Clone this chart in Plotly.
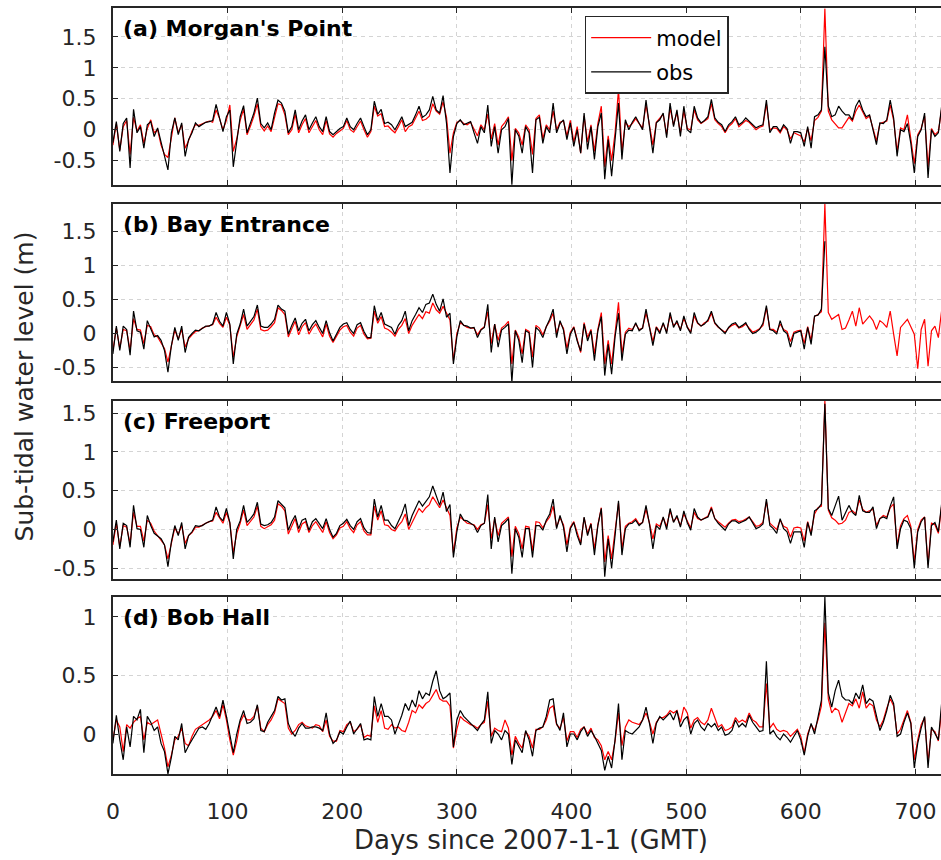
import plotly.graph_objects as go

# Sub-tidal water level, sampled every 3 days (days since 2007-01-01 GMT)
DAYS = list(range(0, 724, 3))

OBS_A = [
    -0.21, 0.13, -0.35, 0.10, 0.19, -0.62, 0.33, -0.05, 0.05, -0.30,
    0.08, 0.13, -0.11, 0.03, -0.20, -0.43, -0.65, -0.05, 0.19, -0.08,
    0.11, -0.43, -0.16, -0.05, 0.11, 0.05, 0.09, 0.12, 0.13, 0.15,
    0.41, 0.21, -0.03, 0.21, 0.32, -0.60, -0.20, 0.21, 0.39, -0.05,
    0.11, 0.27, 0.51, 0.10, 0.03, 0.11, 0.00, 0.27, 0.48, 0.43,
    0.30, -0.05, 0.05, 0.32, 0.00, 0.14, 0.24, 0.00, 0.11, 0.21,
    0.05, -0.03, 0.21, -0.03, -0.08, -0.03, 0.02, 0.05, 0.19, 0.05,
    0.00, 0.10, 0.19, 0.05, -0.08, 0.00, 0.46, 0.25, 0.33, 0.10,
    0.12, 0.08, 0.00, 0.10, 0.21, 0.05, 0.09, 0.12, 0.24, 0.38,
    0.20, 0.24, 0.32, 0.54, 0.32, 0.27, 0.55, 0.10, -0.70, -0.11,
    0.10, 0.16, 0.08, 0.10, 0.13, -0.05, -0.22, 0.05, -0.05, 0.40,
    -0.27, 0.05, -0.38, 0.00, 0.05, 0.18, -0.89, 0.00, -0.10, -0.38,
    0.05, -0.05, -0.70, 0.16, 0.20, -0.22, 0.05, -0.05, 0.43, -0.05,
    0.10, 0.16, -0.16, 0.11, -0.27, 0.00, -0.38, 0.27, -0.32, 0.05,
    -0.48, 0.05, 0.27, -0.80, -0.16, -0.75, -0.10, 0.43, -0.48, 0.16,
    0.00, 0.12, 0.21, 0.11, 0.00, 0.48, 0.05, -0.38, 0.11, 0.16,
    0.27, -0.13, 0.43, 0.05, 0.32, -0.11, 0.38, 0.00, -0.05, 0.38,
    0.19, 0.11, 0.15, 0.21, 0.49, 0.19, 0.12, 0.08, -0.03, 0.08,
    0.13, 0.21, 0.08, 0.12, 0.19, 0.14, 0.08, 0.03, 0.06, 0.08,
    0.48, -0.05, 0.05, 0.05, -0.03, 0.08, 0.02, -0.22, -0.03, -0.03,
    -0.05, -0.27, 0.05, -0.30, 0.21, 0.24, 0.32, 1.34, 0.38, 0.21,
    0.24, 0.38, 0.30, 0.24, 0.24, 0.16, 0.38, 0.48, 0.32, 0.21,
    0.24, 0.00, -0.24, 0.11, 0.10, 0.16, 0.48, 0.19, -0.43, 0.00,
    -0.03, 0.10, -0.22, -0.70, -0.11, 0.00, 0.27, -0.78, 0.00, -0.11,
    -0.05, 0.40,
]

MODEL_A = [
    -0.25, 0.10, -0.33, 0.05, 0.15, -0.40, 0.20, -0.02, 0.08, -0.22,
    0.02, 0.16, -0.05, 0.00, -0.25, -0.40, -0.45, -0.10, 0.19, -0.05,
    0.08, -0.30, -0.18, -0.02, 0.08, 0.07, 0.10, 0.12, 0.14, 0.12,
    0.32, 0.18, 0.00, 0.15, 0.40, -0.35, -0.15, 0.15, 0.33, -0.08,
    0.06, 0.22, 0.42, 0.06, -0.02, 0.06, -0.03, 0.20, 0.42, 0.40,
    0.24, -0.08, 0.00, 0.25, -0.05, 0.08, 0.18, -0.05, 0.05, 0.15,
    0.00, -0.08, 0.15, -0.07, -0.12, -0.06, -0.02, 0.02, 0.15, 0.00,
    -0.04, 0.06, 0.14, 0.00, -0.12, -0.03, 0.38, 0.22, 0.26, 0.05,
    0.06, 0.00, -0.05, 0.05, 0.16, -0.03, 0.05, 0.08, 0.18, 0.30,
    0.15, 0.17, 0.22, 0.42, 0.30, 0.25, 0.45, 0.20, -0.38, -0.05,
    0.12, 0.15, 0.10, 0.08, 0.12, 0.02, -0.10, 0.08, 0.00, 0.25,
    -0.15, 0.10, -0.25, 0.05, 0.12, 0.21, -0.50, 0.02, -0.05, -0.25,
    0.08, 0.00, -0.40, 0.18, 0.24, -0.15, 0.08, 0.00, 0.30, 0.00,
    0.12, 0.14, -0.10, 0.15, -0.20, 0.05, -0.38, 0.22, -0.20, 0.08,
    -0.35, 0.10, 0.38, -0.60, -0.10, -0.50, -0.05, 0.65, -0.35, 0.12,
    0.05, 0.10, 0.18, 0.10, 0.03, 0.40, 0.08, -0.25, 0.12, 0.18,
    0.25, -0.08, 0.35, 0.08, 0.28, -0.05, 0.30, 0.02, 0.00, 0.32,
    0.16, 0.10, 0.14, 0.18, 0.42, 0.16, 0.10, 0.05, -0.05, 0.05,
    0.10, 0.18, 0.05, 0.10, 0.15, 0.12, 0.06, 0.00, 0.04, 0.06,
    0.42, 0.00, 0.03, 0.02, -0.05, 0.05, 0.00, -0.15, -0.05, -0.08,
    -0.10, -0.20, 0.02, -0.18, 0.15, 0.20, 0.30, 1.96, 0.30, 0.16,
    0.10, 0.03, 0.03, 0.12, 0.20, 0.14, 0.30, 0.40, 0.28, 0.18,
    0.22, 0.02, -0.18, 0.10, 0.12, 0.14, 0.40, 0.15, -0.35, 0.03,
    0.00, 0.24, -0.15, -0.55, -0.08, 0.02, 0.22, -0.60, 0.02, -0.08,
    -0.03, 0.35,
]

# Bay Entrance gauge record stops just after the day-620 surge
OBS_B = [
    -0.30, 0.11, -0.25, 0.11, 0.06, -0.32, 0.33, 0.04, 0.02, -0.23,
    0.19, 0.06, -0.05, -0.03, -0.10, -0.25, -0.57, -0.18, 0.09, -0.10,
    0.11, -0.28, -0.06, 0.00, 0.05, 0.04, 0.08, 0.11, 0.11, 0.14,
    0.31, 0.18, 0.11, 0.31, 0.14, -0.45, -0.01, 0.14, 0.36, 0.11,
    0.18, 0.25, 0.42, 0.11, 0.09, 0.09, 0.14, 0.21, 0.42, 0.36,
    0.33, -0.01, 0.12, 0.23, 0.04, 0.15, 0.21, 0.04, 0.13, 0.19,
    0.09, 0.00, 0.19, 0.01, -0.11, -0.01, 0.09, 0.14, 0.16, 0.06,
    0.00, 0.13, 0.16, 0.03, -0.06, -0.06, 0.41, 0.19, 0.31, 0.14,
    0.12, 0.09, -0.01, 0.12, 0.19, 0.33, 0.04, 0.19, 0.28, 0.38,
    0.31, 0.43, 0.45, 0.58, 0.43, 0.33, 0.51, 0.24, 0.30, -0.45,
    -0.05, 0.19, 0.12, 0.11, 0.08, 0.09, -0.06, 0.05, 0.09, 0.43,
    -0.28, 0.14, -0.20, 0.05, 0.09, 0.14, -0.72, 0.04, -0.10, -0.43,
    0.04, 0.01, -0.50, 0.09, 0.04, -0.06, 0.10, 0.21, 0.36, -0.06,
    0.19, 0.05, -0.30, -0.01, 0.09, -0.11, -0.26, 0.14, -0.11, 0.04,
    -0.40, 0.04, 0.25, -0.62, -0.16, -0.60, -0.05, 0.30, -0.40, -0.01,
    0.05, 0.04, 0.16, 0.04, 0.08, 0.36, 0.09, -0.18, 0.09, 0.00,
    0.16, 0.00, 0.31, 0.09, 0.19, 0.04, 0.26, 0.09, 0.00, 0.31,
    0.16, 0.11, 0.14, 0.20, 0.33, 0.16, 0.10, 0.05, 0.00, 0.09,
    0.14, 0.16, 0.09, 0.12, 0.16, 0.06, 0.00, 0.02, 0.06, 0.15,
    0.41, 0.06, 0.04, -0.01, 0.19, 0.04, 0.00, -0.20, 0.00, 0.02,
    0.04, -0.23, 0.09, -0.16, 0.26, 0.27, 0.36, 1.36,
]

MODEL_B = [
    -0.25, 0.08, -0.22, 0.06, 0.04, -0.25, 0.22, 0.06, 0.05, -0.15,
    0.12, 0.10, -0.02, -0.05, -0.14, -0.22, -0.42, -0.20, 0.05, -0.08,
    0.06, -0.20, -0.08, -0.02, 0.03, 0.04, 0.08, 0.10, 0.12, 0.13,
    0.24, 0.15, 0.09, 0.24, 0.12, -0.35, -0.05, 0.10, 0.28, 0.06,
    0.13, 0.20, 0.36, 0.06, 0.04, 0.05, 0.10, 0.16, 0.38, 0.34,
    0.28, -0.05, 0.07, 0.18, -0.02, 0.10, 0.16, -0.01, 0.08, 0.14,
    0.04, -0.05, 0.14, -0.04, -0.13, -0.05, 0.05, 0.10, 0.12, 0.02,
    -0.04, 0.08, 0.12, -0.01, -0.08, -0.07, 0.33, 0.15, 0.25, 0.08,
    0.06, 0.02, -0.04, 0.06, 0.12, 0.22, 0.00, 0.12, 0.20, 0.28,
    0.22, 0.32, 0.30, 0.45, 0.35, 0.30, 0.40, 0.30, 0.20, -0.40,
    0.00, 0.16, 0.12, 0.09, 0.08, 0.08, -0.02, 0.06, 0.10, 0.32,
    -0.15, 0.14, -0.10, 0.08, 0.12, 0.18, -0.45, 0.05, -0.05, -0.30,
    0.06, 0.03, -0.35, 0.12, 0.08, -0.02, 0.10, 0.18, 0.30, 0.00,
    0.16, 0.08, -0.22, 0.02, 0.10, -0.08, -0.28, 0.16, -0.06, 0.06,
    -0.30, 0.06, 0.31, -0.45, -0.10, -0.45, 0.00, 0.46, -0.30, 0.02,
    0.08, 0.06, 0.14, 0.06, 0.08, 0.30, 0.10, -0.12, 0.10, 0.03,
    0.14, 0.03, 0.26, 0.12, 0.16, 0.06, 0.22, 0.10, 0.02, 0.26,
    0.15, 0.11, 0.16, 0.18, 0.30, 0.15, 0.09, 0.06, 0.02, 0.08,
    0.12, 0.14, 0.08, 0.10, 0.14, 0.08, 0.02, 0.04, 0.07, 0.12,
    0.38, 0.06, 0.06, 0.02, 0.14, 0.06, 0.03, -0.12, 0.02, 0.04,
    0.05, -0.15, 0.10, -0.10, 0.25, 0.28, 0.32, 1.91, 0.31, 0.21,
    0.25, 0.28, 0.06, 0.08, 0.20, 0.33, 0.11, 0.38, 0.14, 0.20,
    0.26, 0.19, 0.06, 0.19, 0.15, 0.09, 0.33, -0.01, -0.33, 0.09,
    0.15, 0.21, 0.10, -0.01, -0.52, 0.06, 0.21, -0.48, 0.04, 0.11,
    -0.06, 0.36,
]

OBS_C = [
    -0.16, 0.12, -0.25, 0.08, 0.05, -0.23, 0.31, 0.01, 0.00, -0.23,
    0.18, 0.05, -0.05, -0.08, -0.12, -0.20, -0.48, -0.16, 0.05, -0.08,
    0.09, -0.25, -0.08, -0.03, 0.05, 0.04, 0.05, 0.08, 0.10, 0.12,
    0.29, 0.16, 0.11, 0.27, 0.09, -0.38, 0.00, 0.11, 0.31, 0.09,
    0.14, 0.20, 0.35, 0.07, 0.05, 0.06, 0.09, 0.16, 0.37, 0.33,
    0.28, -0.01, 0.10, 0.18, 0.01, 0.12, 0.14, -0.01, 0.10, 0.14,
    0.07, 0.01, 0.14, 0.00, -0.10, -0.05, 0.05, 0.08, 0.13, 0.05,
    0.00, 0.10, 0.14, 0.02, -0.04, -0.05, 0.39, 0.16, 0.31, 0.12,
    0.12, 0.05, 0.01, 0.10, 0.20, 0.33, 0.05, 0.18, 0.27, 0.37,
    0.30, 0.36, 0.42, 0.56, 0.42, 0.31, 0.48, 0.23, 0.32, -0.36,
    -0.03, 0.20, 0.12, 0.11, 0.08, 0.05, -0.04, 0.05, 0.08, 0.45,
    -0.25, 0.16, -0.16, 0.05, 0.09, 0.14, -0.57, 0.01, -0.10, -0.36,
    0.01, 0.01, -0.36, 0.05, 0.05, -0.01, 0.12, 0.20, 0.39, 0.01,
    0.18, 0.03, -0.29, 0.01, 0.09, -0.08, -0.20, 0.16, -0.08, 0.07,
    -0.33, 0.05, 0.27, -0.61, -0.12, -0.50, -0.08, 0.37, -0.33, 0.01,
    0.07, 0.08, 0.12, 0.05, 0.09, 0.31, 0.07, -0.25, 0.05, 0.00,
    0.16, 0.00, 0.27, 0.09, 0.18, 0.03, 0.24, 0.09, -0.01, 0.27,
    0.16, 0.12, 0.14, 0.16, 0.27, 0.14, 0.08, 0.04, -0.01, 0.07,
    0.11, 0.11, 0.08, 0.10, 0.12, 0.16, 0.09, 0.01, 0.03, 0.07,
    0.39, 0.05, 0.01, -0.05, 0.14, 0.01, -0.03, -0.18, -0.03, -0.03,
    -0.03, -0.23, 0.09, -0.08, 0.24, 0.27, 0.33, 1.62, 0.27, 0.18,
    0.31, 0.43, 0.12, 0.22, 0.31, 0.22, 0.18, 0.44, 0.24, 0.22,
    0.22, 0.29, 0.01, 0.14, 0.16, 0.14, 0.30, 0.42, -0.25, 0.01,
    0.12, 0.10, 0.01, -0.50, -0.03, 0.10, 0.16, -0.50, 0.05, 0.09,
    -0.03, 0.35,
]

MODEL_C = [
    -0.20, 0.08, -0.22, 0.05, 0.03, -0.18, 0.22, 0.04, 0.04, -0.15,
    0.12, 0.08, -0.02, -0.08, -0.15, -0.20, -0.38, -0.18, 0.02, -0.06,
    0.05, -0.18, -0.08, -0.04, 0.03, 0.03, 0.06, 0.08, 0.10, 0.11,
    0.22, 0.14, 0.08, 0.22, 0.08, -0.30, -0.05, 0.08, 0.25, 0.05,
    0.10, 0.16, 0.30, 0.04, 0.01, 0.03, 0.06, 0.12, 0.33, 0.30,
    0.24, -0.06, 0.05, 0.14, -0.04, 0.07, 0.10, -0.04, 0.05, 0.10,
    0.03, -0.04, 0.10, -0.04, -0.12, -0.07, 0.02, 0.04, 0.10, 0.01,
    -0.04, 0.06, 0.10, -0.02, -0.07, -0.07, 0.30, 0.12, 0.24, 0.06,
    0.05, 0.00, -0.02, 0.05, 0.10, 0.20, 0.00, 0.10, 0.18, 0.27,
    0.22, 0.28, 0.32, 0.42, 0.35, 0.28, 0.38, 0.28, 0.18, -0.30,
    0.02, 0.16, 0.12, 0.08, 0.07, 0.06, 0.00, 0.06, 0.08, 0.32,
    -0.12, 0.14, -0.08, 0.08, 0.12, 0.16, -0.35, 0.04, -0.05, -0.25,
    0.04, 0.03, -0.28, 0.10, 0.09, 0.02, 0.10, 0.16, 0.30, 0.03,
    0.15, 0.06, -0.20, 0.03, 0.10, -0.05, -0.18, 0.15, -0.05, 0.08,
    -0.25, 0.06, 0.28, -0.42, -0.08, -0.38, -0.02, 0.34, -0.25, 0.04,
    0.08, 0.10, 0.14, 0.07, 0.09, 0.26, 0.08, -0.12, 0.07, 0.04,
    0.15, 0.04, 0.24, 0.10, 0.16, 0.05, 0.20, 0.10, 0.02, 0.22,
    0.14, 0.12, 0.15, 0.17, 0.29, 0.14, 0.10, 0.07, 0.03, 0.08,
    0.12, 0.13, 0.10, 0.11, 0.14, 0.16, 0.10, 0.04, 0.05, 0.09,
    0.36, 0.08, 0.04, 0.00, 0.12, 0.04, 0.02, -0.10, 0.02, 0.03,
    0.02, -0.15, 0.10, -0.05, 0.20, 0.28, 0.30, 1.66, 0.25, 0.15,
    0.12, 0.07, 0.08, 0.12, 0.22, 0.24, 0.20, 0.38, 0.26, 0.22,
    0.24, 0.26, 0.05, 0.14, 0.18, 0.16, 0.28, 0.33, -0.20, 0.05,
    0.14, 0.18, 0.04, -0.42, 0.00, 0.12, 0.16, -0.45, 0.08, 0.06,
    -0.05, 0.32,
]

OBS_D = [
    -0.08, 0.16, -0.05, -0.22, 0.06, -0.11, 0.15, 0.12, 0.21, -0.16,
    0.15, 0.10, 0.03, 0.06, -0.08, -0.15, -0.34, -0.20, -0.02, -0.05,
    0.09, -0.16, -0.10, -0.05, 0.00, 0.05, 0.06, 0.04, 0.09, 0.16,
    0.23, 0.15, 0.29, 0.15, 0.00, -0.16, 0.00, 0.12, 0.20, 0.09,
    0.10, 0.13, 0.25, 0.03, 0.02, 0.10, 0.15, 0.20, 0.32, 0.29,
    0.30, 0.09, 0.02, -0.02, 0.05, 0.09, 0.05, 0.05, 0.06, 0.06,
    0.05, 0.03, 0.18, 0.00, -0.08, -0.05, 0.02, 0.00, 0.06, 0.11,
    0.00, 0.05, 0.09, -0.05, -0.04, -0.05, 0.32, 0.15, 0.26, 0.15,
    0.15, 0.12, 0.00, 0.08, 0.16, 0.26, 0.20, 0.29, 0.23, 0.37,
    0.30, 0.35, 0.33, 0.45, 0.54, 0.37, 0.30, 0.32, 0.35, -0.11,
    0.12, 0.20, 0.15, 0.12, 0.09, 0.06, 0.03, 0.08, 0.12, 0.36,
    -0.08, 0.03, 0.00, -0.05, 0.03, 0.00, -0.26, -0.05, -0.10, -0.16,
    0.03, -0.05, -0.19, 0.03, 0.05, 0.06, 0.15, 0.29, 0.30, 0.09,
    0.03, 0.18, -0.11, 0.00, 0.00, -0.05, 0.02, 0.06, -0.02, 0.03,
    -0.02, -0.08, -0.14, -0.31, -0.19, -0.29, -0.05, 0.26, -0.22, 0.03,
    0.01, 0.00, 0.03, 0.06, 0.12, 0.23, 0.09, -0.08, 0.09, 0.15,
    0.12, 0.15, 0.18, 0.12, 0.20, 0.06, 0.12, 0.15, 0.00, 0.09,
    0.12, 0.06, 0.03, 0.09, 0.06, 0.09, 0.03, 0.06, -0.01, 0.00,
    0.03, 0.12, 0.06, 0.09, 0.06, 0.16, 0.10, 0.06, 0.02, 0.03,
    0.62, 0.00, 0.03, -0.02, -0.05, 0.00, -0.03, -0.07, -0.02, 0.03,
    -0.05, -0.18, -0.02, 0.09, 0.00, 0.15, 0.29, 1.17, 0.35, 0.23,
    0.37, 0.46, 0.32, 0.29, 0.29, 0.26, 0.35, 0.30, 0.42, 0.26,
    0.30, 0.28, 0.15, 0.03, 0.10, 0.20, 0.33, 0.26, -0.02, 0.00,
    0.10, 0.18, 0.09, -0.29, -0.08, 0.05, 0.15, -0.29, 0.06, 0.00,
    -0.05, 0.28,
]

MODEL_D = [
    -0.05, 0.12, 0.06, -0.15, 0.08, 0.05, 0.10, 0.13, 0.15, -0.05,
    0.10, 0.08, 0.10, 0.12, 0.00, -0.12, -0.28, -0.18, -0.05, -0.02,
    0.05, -0.08, -0.10, -0.02, 0.04, 0.06, 0.08, 0.10, 0.12, 0.15,
    0.20, 0.13, 0.25, 0.12, -0.05, -0.18, -0.06, 0.10, 0.16, 0.12,
    0.12, 0.15, 0.24, 0.05, 0.02, 0.08, 0.12, 0.18, 0.30, 0.28,
    0.26, 0.05, 0.00, 0.03, 0.08, 0.10, 0.07, 0.06, 0.05, 0.08,
    0.07, 0.02, 0.12, -0.02, -0.06, -0.06, 0.03, 0.02, 0.08, 0.10,
    0.02, 0.04, 0.08, -0.03, -0.01, -0.02, 0.24, 0.10, 0.20, 0.05,
    0.04, 0.08, 0.05, 0.06, 0.03, 0.02, 0.10, 0.20, 0.18, 0.25,
    0.22, 0.26, 0.28, 0.33, 0.38, 0.30, 0.28, 0.28, 0.24, -0.12,
    0.04, 0.15, 0.12, 0.10, 0.08, 0.07, 0.05, 0.08, 0.10, 0.28,
    -0.02, 0.05, 0.03, 0.02, 0.12, 0.05, -0.18, -0.02, -0.08, -0.12,
    0.02, -0.02, -0.12, 0.04, 0.04, 0.06, 0.12, 0.22, 0.24, 0.08,
    0.05, 0.14, -0.06, 0.02, 0.02, -0.03, 0.04, 0.06, 0.00, 0.05,
    -0.03, -0.05, -0.10, -0.22, -0.15, -0.22, -0.06, 0.18, -0.10, 0.06,
    0.12, 0.10, 0.09, 0.08, 0.12, 0.18, 0.10, 0.00, 0.10, 0.14,
    0.14, 0.16, 0.20, 0.18, 0.20, 0.10, 0.23, 0.18, 0.05, 0.12,
    0.14, 0.10, 0.08, 0.12, 0.22, 0.14, 0.06, 0.08, 0.03, 0.04,
    0.06, 0.14, 0.10, 0.12, 0.10, 0.18, 0.12, 0.10, 0.06, 0.06,
    0.43, 0.05, 0.09, 0.04, 0.02, 0.03, 0.02, -0.02, 0.01, 0.04,
    -0.02, -0.16, 0.00, 0.08, 0.03, 0.12, 0.24, 0.95, 0.30, 0.18,
    0.22, 0.20, 0.10, 0.18, 0.26, 0.24, 0.30, 0.22, 0.36, 0.22,
    0.26, 0.24, 0.12, 0.06, 0.12, 0.22, 0.30, 0.24, 0.00, 0.04,
    0.12, 0.20, 0.10, -0.22, -0.05, 0.08, 0.14, -0.24, 0.04, 0.02,
    -0.06, 0.22,
]

PANEL_TITLES = ["(a) Morgan's Point", "(b) Bay Entrance", "(c) Freeport", "(d) Bob Hall"]
OBS_SERIES = [OBS_A, OBS_B, OBS_C, OBS_D]
MODEL_SERIES = [MODEL_A, MODEL_B, MODEL_C, MODEL_D]
Y_RANGES = [[-0.898, 1.963], [-0.706, 1.912], [-0.634, 1.658], [-0.343, 1.170]]
Y_TICKS = [[-0.5, 0, 0.5, 1, 1.5], [-0.5, 0, 0.5, 1, 1.5], [-0.5, 0, 0.5, 1, 1.5], [0, 0.5, 1]]
Y_TICK_TEXT = [["-0.5", "0", "0.5", "1", "1.5"], ["-0.5", "0", "0.5", "1", "1.5"],
               ["-0.5", "0", "0.5", "1", "1.5"], ["0", "0.5", "1"]]
X_TICKS = [0, 100, 200, 300, 400, 500, 600, 700]
X_RANGE = [0, 722.3]

W, H = 941, 860
AX_LEFT_PX = 106.7
PANEL_PX = [(8.3, 185.7), (204.3, 382.3), (401.7, 580.0), (598.3, 776.0)]

AXIS_COLOR = "#262626"
GRID_COLOR = "#d4d4d4"
FONT = "DejaVu Sans"

fig = go.Figure()

for i in range(4):
    n = i + 1
    xa = "x" if n == 1 else f"x{n}"
    ya = "y" if n == 1 else f"y{n}"
    model = MODEL_SERIES[i]
    obs = OBS_SERIES[i]
    fig.add_trace(go.Scatter(
        x=DAYS[:len(model)], y=model, mode="lines", name="model",
        line=dict(color="#ff0000", width=1.2), xaxis=xa, yaxis=ya,
        showlegend=(i == 0), legendgroup="model",
    ))
    fig.add_trace(go.Scatter(
        x=DAYS[:len(obs)], y=obs, mode="lines", name="obs",
        line=dict(color="#000000", width=1.2), xaxis=xa, yaxis=ya,
        showlegend=(i == 0), legendgroup="obs",
    ))

layout = dict(
    width=W, height=H,
    margin=dict(l=0, r=0, t=0, b=0),
    paper_bgcolor="white", plot_bgcolor="white",
    font=dict(family=FONT, color=AXIS_COLOR),
    legend=dict(
        x=582 / W, y=1 - 16 / H, xanchor="left", yanchor="top",
        bgcolor="white", bordercolor=AXIS_COLOR, borderwidth=1.5,
        font=dict(family=FONT, size=21, color="#000000"),
        tracegroupgap=4, itemwidth=60,
    ),
)

annotations = []
for i in range(4):
    n = i + 1
    top_px, bot_px = PANEL_PX[i]
    xkey = "xaxis" if n == 1 else f"xaxis{n}"
    ykey = "yaxis" if n == 1 else f"yaxis{n}"
    layout[xkey] = dict(
        domain=[AX_LEFT_PX / W, 1.0], range=X_RANGE, anchor="y" if n == 1 else f"y{n}",
        tickvals=X_TICKS, ticktext=[str(v) for v in X_TICKS],
        showticklabels=(n == 4), ticks="inside", ticklen=5, tickwidth=1.2,
        tickcolor=AXIS_COLOR, showline=True, linecolor=AXIS_COLOR, linewidth=2,
        mirror="ticks", showgrid=True, gridcolor=GRID_COLOR, gridwidth=1,
        griddash="4px,4px", zeroline=False, ticklabelstandoff=16,
        tickfont=dict(family=FONT, size=22, color=AXIS_COLOR),
    )
    layout[ykey] = dict(
        domain=[1 - bot_px / H, 1 - top_px / H], range=Y_RANGES[i],
        anchor="x" if n == 1 else f"x{n}",
        tickvals=Y_TICKS[i], ticktext=Y_TICK_TEXT[i],
        ticks="inside", ticklen=5, tickwidth=1.2, tickcolor=AXIS_COLOR,
        showline=True, linecolor=AXIS_COLOR, linewidth=2, mirror=False,
        showgrid=True, gridcolor=GRID_COLOR, gridwidth=1, griddash="4px,4px",
        zeroline=False, ticklabelstandoff=10,
        tickfont=dict(family=FONT, size=22, color=AXIS_COLOR),
    )
    annotations.append(dict(
        text=f"<b>{PANEL_TITLES[i]}</b>", showarrow=False,
        xref=("x" if n == 1 else f"x{n}") + " domain",
        yref=("y" if n == 1 else f"y{n}") + " domain",
        x=8.5 / (W - AX_LEFT_PX), y=1 - 20.5 / (bot_px - top_px),
        xanchor="left", yanchor="middle",
        font=dict(family=FONT, size=22, color="#000000"),
    ))

annotations.append(dict(
    text="Days since 2007-1-1 (GMT)", showarrow=False, xref="paper", yref="paper",
    x=528 / W, y=1 - 842 / H, xanchor="center", yanchor="middle",
    font=dict(family=FONT, size=26, color=AXIS_COLOR),
))
annotations.append(dict(
    text="Sub-tidal water level (m)", showarrow=False, xref="paper", yref="paper",
    x=18 / W, y=1 - 387.5 / H, xanchor="center", yanchor="middle", textangle=-90,
    font=dict(family=FONT, size=25, color=AXIS_COLOR),
))
layout["annotations"] = annotations

fig.update_layout(**layout)
fig.write_html("out.html")
